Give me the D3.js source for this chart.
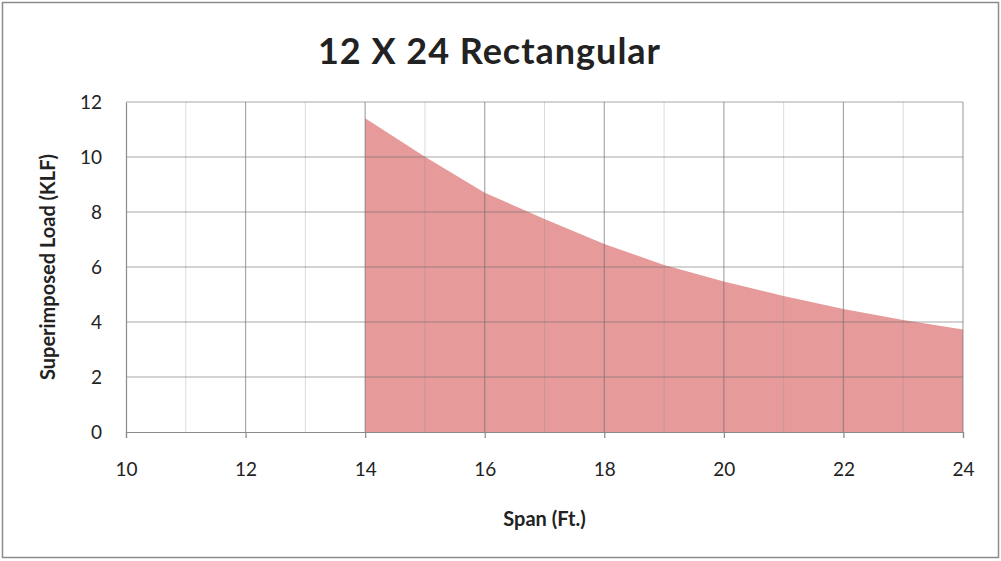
<!DOCTYPE html>
<html>
<head>
<meta charset="utf-8">
<script src="https://cdnjs.cloudflare.com/ajax/libs/d3/7.8.5/d3.min.js"></script>
<style>
  body { margin: 0; background: #fff; }
  text { font-family: Lato, "Open Sans", sans-serif; fill: #222; }
</style>
</head>
<body>
<div id="chart"></div>
<script>
// chart data
var spans = [14, 15, 16, 17, 18, 19, 20, 21, 22, 23, 24];
var loads = [11.41, 10.01, 8.70, 7.75, 6.84, 6.07, 5.47, 4.95, 4.47, 4.07, 3.73];
var xTicks = [10, 12, 14, 16, 18, 20, 22, 24];
var yTicks = [0, 2, 4, 6, 8, 10, 12];
var minorX = [11, 13, 15, 17, 19, 21, 23];

var svgWidth = 1001;
var svgHeight = 561;

var margin = { top: 102, right: 38, bottom: 129, left: 126 };
var chartWidth = svgWidth - margin.left - margin.right;
var chartHeight = svgHeight - margin.top - margin.bottom;

var svg = d3.select("#chart").append("svg")
    .attr("width", svgWidth)
    .attr("height", svgHeight);

// outer frame
svg.append("rect")
    .attr("x", 2.5).attr("y", 2.5)
    .attr("width", svgWidth - 5).attr("height", svgHeight - 6)
    .attr("fill", "#fff")
    .attr("stroke", "#8c8c8c")
    .attr("stroke-width", 1.5);

var chartGroup = svg.append("g")
    .attr("transform", `translate(${margin.left}, ${margin.top})`);

var xScale = d3.scaleLinear().domain([10, 24]).range([0, chartWidth]);
var yScale = d3.scaleLinear().domain([0, 12]).range([chartHeight, 0]);

// area under the curve
var area = d3.area()
    .x((d, i) => xScale(spans[i]))
    .y0(yScale(0))
    .y1(d => yScale(d));

chartGroup.append("path")
    .datum(loads)
    .attr("d", area)
    .attr("fill", "rgb(200,30,30)")
    .attr("fill-opacity", 0.45);

// minor vertical gridlines
chartGroup.selectAll(".minor")
    .data(minorX)
    .enter().append("line")
    .attr("x1", d => xScale(d)).attr("x2", d => xScale(d))
    .attr("y1", 0).attr("y2", chartHeight)
    .attr("stroke", "#8a8a8a")
    .attr("stroke-opacity", 0.3)
    .attr("stroke-width", 1);

// major vertical gridlines
chartGroup.selectAll(".vmajor")
    .data(xTicks.slice(1))
    .enter().append("line")
    .attr("x1", d => xScale(d)).attr("x2", d => xScale(d))
    .attr("y1", 0).attr("y2", chartHeight)
    .attr("stroke", "#6e6e6e")
    .attr("stroke-opacity", 0.6)
    .attr("stroke-width", 1.2);

// horizontal gridlines
chartGroup.selectAll(".hmajor")
    .data(yTicks.slice(1))
    .enter().append("line")
    .attr("x1", 0).attr("x2", chartWidth)
    .attr("y1", d => yScale(d)).attr("y2", d => yScale(d))
    .attr("stroke", "#6e6e6e")
    .attr("stroke-opacity", 0.6)
    .attr("stroke-width", 1.2);

// axes
var bottomAxis = d3.axisBottom(xScale).tickValues(xTicks).tickSize(6).tickPadding(25);
var leftAxis = d3.axisLeft(yScale).tickValues(yTicks).tickSize(0).tickPadding(24);

var gx = chartGroup.append("g")
    .attr("transform", `translate(0, ${chartHeight})`)
    .call(bottomAxis);
var gy = chartGroup.append("g").call(leftAxis);

[gx, gy].forEach(function (g) {
    g.select(".domain").attr("stroke", "#8a8a8a").attr("stroke-width", 1.2);
    g.selectAll(".tick line").attr("stroke", "#8a8a8a").attr("stroke-width", 1.2);
    g.selectAll("text")
        .style("font-family", "Lato, 'Open Sans', sans-serif")
        .style("font-size", "19px")
        .attr("fill", "#222");
});
gy.selectAll("text").attr("dy", "0.35em");

// title
svg.append("text")
    .attr("x", 489).attr("y", 64)
    .attr("text-anchor", "middle")
    .attr("textLength", 342)
    .attr("lengthAdjust", "spacing")
    .style("font-size", "36px")
    .style("font-weight", "bold")
    .text("12 X 24 Rectangular");

// axis titles
chartGroup.append("text")
    .attr("x", chartWidth / 2).attr("y", 526 - margin.top)
    .attr("text-anchor", "middle")
    .style("font-size", "20px")
    .style("font-weight", "bold")
    .text("Span (Ft.)");

chartGroup.append("text")
    .attr("transform", `translate(${-78}, ${chartHeight / 2})rotate(-90)`)
    .attr("text-anchor", "middle")
    .attr("dy", "0.35em")
    .style("font-size", "20px")
    .style("font-weight", "bold")
    .text("Superimposed Load (KLF)");
</script>
</body>
</html>
